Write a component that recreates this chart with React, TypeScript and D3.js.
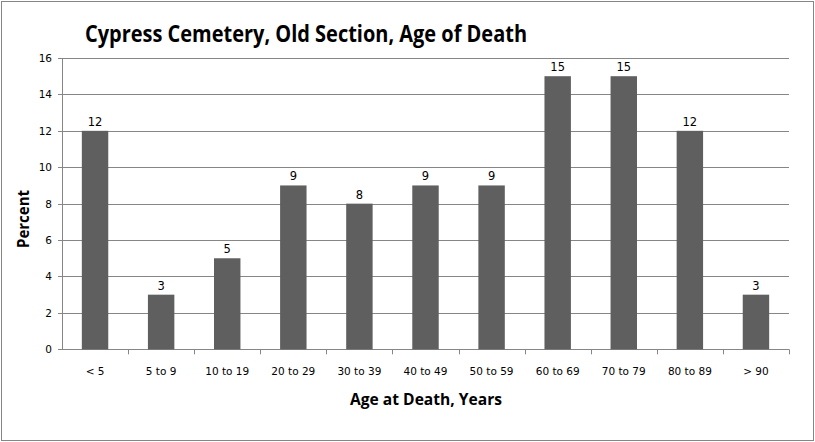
import React from "react";
import * as d3 from "d3";

const categories = ["< 5", "5 to 9", "10 to 19", "20 to 29", "30 to 39", "40 to 49", "50 to 59", "60 to 69", "70 to 79", "80 to 89", "> 90"];
const values = [12, 3, 5, 9, 8, 9, 9, 15, 15, 12, 3];
const yTicks = [0, 2, 4, 6, 8, 10, 12, 14, 16];

const W = 815, H = 442;
const left = 62, right = 789, top = 58, bottom = 349.3;

export default function App() {
  const x = d3.scaleBand<string>().domain(categories).range([left, right]).paddingInner(0.6).paddingOuter(0.3);
  const xb = d3.scaleBand<string>().domain(categories).range([left, right]);
  const y = d3.scaleLinear().domain([0, 16]).range([bottom, top]);
  const grid = "#868686";
  return (
    <div style={{ position: "absolute", left: 0, top: 0 }}>
      <svg width={W} height={H} style={{ display: "block", background: "#fff" }}>
        <rect x={1.5} y={1.5} width={812} height={439} fill="#fff" stroke={grid} strokeWidth={1} />
        <text x={306} y={42} textAnchor="middle" fontFamily="'Open Sans', sans-serif" fontWeight="bold" fontSize={24} textLength={442} lengthAdjust="spacingAndGlyphs" fill="#000">Cypress Cemetery, Old Section, Age of Death</text>
        {yTicks.map((t) => (
          <g key={t}>
            <line x1={left - 4} x2={t === 0 ? right : right} y1={Math.round(y(t)) + 0.5} y2={Math.round(y(t)) + 0.5} stroke={grid} strokeWidth={1} />
            <text x={52} y={y(t) + 4} textAnchor="end" fontFamily="'DejaVu Sans', sans-serif" fontSize={10.5} fill="#000">{t}</text>
          </g>
        ))}
        <line x1={left + 0.5} x2={left + 0.5} y1={top} y2={bottom} stroke={grid} strokeWidth={1} />
        {categories.map((c, i) => (
          <line key={"tk" + i} x1={Math.round(xb(c)! + xb.bandwidth()) + 0.5} x2={Math.round(xb(c)! + xb.bandwidth()) + 0.5} y1={bottom} y2={bottom + 5} stroke={grid} strokeWidth={1} />
        ))}
        {categories.map((c, i) => (
          <g key={"b" + i}>
            <rect x={x(c)!} y={y(values[i])} width={x.bandwidth()} height={bottom - y(values[i])} fill="#5f5f5f" />
            <text x={x(c)! + x.bandwidth() / 2} y={y(values[i]) - 5} textAnchor="middle" fontFamily="'DejaVu Sans', sans-serif" fontSize={11.5} fill="#000">{values[i]}</text>
            <text x={xb(c)! + xb.bandwidth() / 2} y={375} textAnchor="middle" fontFamily="'DejaVu Sans', sans-serif" fontSize={10.5} fill="#000">{c}</text>
          </g>
        ))}
        <text x={426} y={405} textAnchor="middle" fontFamily="'Open Sans', sans-serif" fontWeight="bold" fontSize={15.5} textLength={152} lengthAdjust="spacingAndGlyphs" fill="#000">Age at Death, Years</text>
        <text transform="translate(29,219) rotate(-90)" textAnchor="middle" fontFamily="'Open Sans', sans-serif" fontWeight="bold" fontSize={15.5} textLength={58} lengthAdjust="spacingAndGlyphs" fill="#000">Percent</text>
      </svg>
    </div>
  );
}
